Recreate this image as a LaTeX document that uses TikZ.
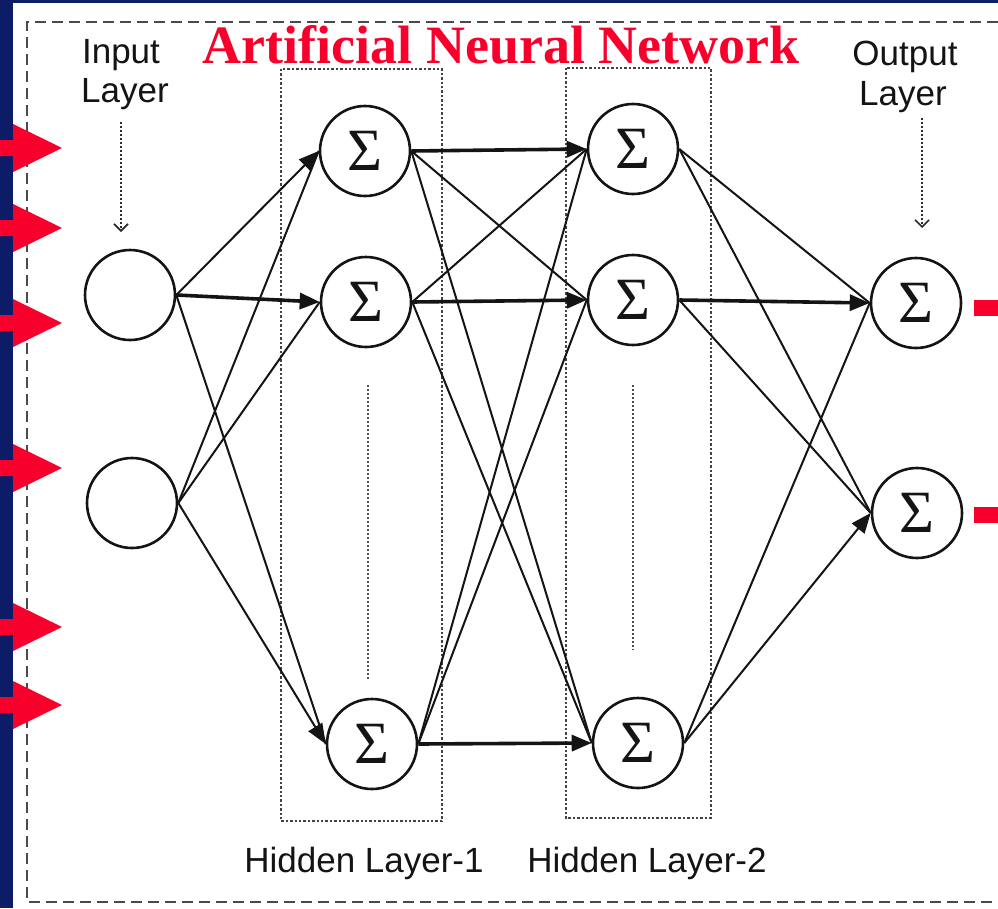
\documentclass[tikz,border=0pt]{standalone}
\usepackage{fontspec}
\setmainfont{Liberation Serif}
\setsansfont{Liberation Sans}
\usetikzlibrary{arrows.meta}
\definecolor{bgblue}{HTML}{0D1C66}
\definecolor{titlered}{HTML}{F8002C}
\definecolor{ink}{HTML}{141414}
\definecolor{frame}{HTML}{4A4A4A}
\begin{document}
\begin{tikzpicture}[x=1pt,y=-1pt,
  neuron/.style={circle,draw=ink,fill=white,line width=2.6pt,minimum size=90pt,inner sep=0pt,
    font=\fontsize{60}{60}\selectfont,text=ink},
  link/.style={draw=ink,line width=2pt},
  mainlink/.style={draw=ink,line width=3.6pt},
  tipped/.style={-{Triangle[length=20pt,width=16pt]}},
  lab/.style={font=\sffamily\fontsize{35}{35}\selectfont,text=ink,anchor=base,inner sep=0pt},
  layerbox/.style={draw=ink!80,dotted,line width=2.4pt},
  ellip/.style={draw=ink!75,dotted,line width=2pt},
  labarrow/.style={draw=ink!90,dotted,line width=2pt,-{Straight Barb[length=7pt,width=14pt,line width=1.6pt]}},
  frameline/.style={draw=frame,line width=2.8pt,dash pattern=on 11pt off 6pt},
  redarrow/.style={fill=titlered}
]
\useasboundingbox (0,0) rectangle (998,908);
% background
\fill[bgblue] (0,0) rectangle (998,908);
\fill[white] (13,3) rectangle (998,908);
\draw[frameline] (998,22) -- (27,22) -- (27,902) -- (998,902);

% title
\node[font=\bfseries\fontsize{54}{54}\selectfont,text=titlered,anchor=base,inner sep=0pt] (title) at (501,63) {Artificial Neural Network};

% layer boxes
\draw[layerbox] (281,69) rectangle (442,821);
\draw[layerbox] (566,68) rectangle (711,818);

% labels
\node[lab] (inlab1) at (121,63) {Input};
\node[lab] (inlab2) at (125,102) {Layer};
\node[lab] (outlab1) at (905,65) {Output};
\node[lab] (outlab2) at (903,105) {Layer};
\node[lab] (h1lab) at (364,872) {Hidden Layer-1};
\node[lab] (h2lab) at (647,872) {Hidden Layer-2};

\coordinate (inA) at (121,122);
\coordinate (inB) at (121,232);
\coordinate (outA) at (922,118);
\coordinate (outB) at (922,228);
\draw[labarrow] (inA) -- (inB);
\draw[labarrow] (outA) -- (outB);

% neurons
\node[neuron] (I1) at (130,295) {};
\node[neuron] (I2) at (132,503) {};
\node[neuron] (H1a) at (365,151) {Σ};
\node[neuron] (H1b) at (366,302) {Σ};
\node[neuron] (H1c) at (372,744) {Σ};
\node[neuron] (H2a) at (633,149) {Σ};
\node[neuron] (H2b) at (633,300) {Σ};
\node[neuron] (H2c) at (638,743) {Σ};
\node[neuron] (O1) at (916,303) {Σ};
\node[neuron] (O2) at (917,513) {Σ};

% ellipsis dots
\coordinate (e1a) at (368,385); \coordinate (e1b) at (368,680);
\coordinate (e2a) at (633,385); \coordinate (e2b) at (633,650);
\draw[ellip] (e1a) -- (e1b);
\draw[ellip] (e2a) -- (e2b);

% input -> hidden 1
\draw[link,tipped] (I1.east) -- (H1a.west);
\draw[mainlink,tipped] (I1.east) -- (H1b.west);
\draw[link] (I1.east) -- (H1c.west);
\draw[link] (I2.east) -- (H1a.west);
\draw[link] (I2.east) -- (H1b.west);
\draw[link,tipped] (I2.east) -- (H1c.west);

% hidden 1 -> hidden 2
\draw[mainlink,tipped] (H1a.east) -- (H2a.west);
\draw[link] (H1a.east) -- (H2b.west);
\draw[link] (H1a.east) -- (H2c.west);
\draw[link] (H1b.east) -- (H2a.west);
\draw[mainlink,tipped] (H1b.east) -- (H2b.west);
\draw[link] (H1b.east) -- (H2c.west);
\draw[link] (H1c.east) -- (H2a.west);
\draw[link] (H1c.east) -- (H2b.west);
\draw[mainlink,tipped] (H1c.east) -- (H2c.west);

% hidden 2 -> output
\draw[link] (H2a.east) -- (O1.west);
\draw[link] (H2a.east) -- (O2.west);
\draw[mainlink,tipped] (H2b.east) -- (O1.west);
\draw[link] (H2b.east) -- (O2.west);
\draw[link] (H2c.east) -- (O1.west);
\draw[link,tipped] (H2c.east) -- (O2.west);

% red arrows on the left
\foreach \c in {148,228,323,468,627,705}{
  \fill[redarrow] (0,{\c-8}) -- (13,{\c-8}) -- (13,{\c-24}) -- (62,\c) -- (13,{\c+24}) -- (13,{\c+8}) -- (0,{\c+8}) -- cycle;
}
% red marks on the right
\fill[redarrow] (974,300) rectangle (998,316);
\fill[redarrow] (974,507) rectangle (998,523);
\end{tikzpicture}
\end{document}
